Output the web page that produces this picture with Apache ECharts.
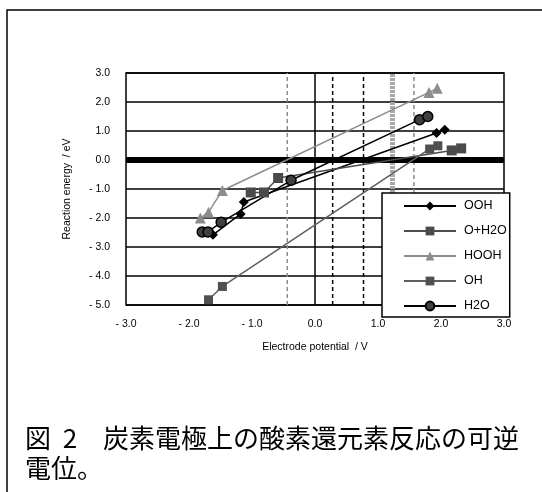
<!DOCTYPE html>
<html><head><meta charset="utf-8">
<script src="https://cdn.jsdelivr.net/npm/echarts@6/dist/echarts.min.js"></script>
<style>html,body{margin:0;padding:0;background:#fff}#c{width:542px;height:492px}</style>
</head><body><div id="c"></div>
<script>
// Data: [electrode potential (V), reaction energy (eV)]
var OOH   = [[-1.62,-2.58],[-1.18,-1.86],[-1.13,-1.45],[1.93,0.93],[2.06,1.04]];
var O_H2O = [[-1.02,-1.12],[-0.81,-1.12],[-0.585,-0.62],[2.17,0.33],[2.32,0.40]];
var HOOH  = [[-1.82,-2.0],[-1.69,-1.8],[-1.47,-1.05],[1.81,2.33],[1.94,2.47]];
var OH    = [[-1.69,-4.82],[-1.47,-4.36],[1.82,0.38],[1.95,0.49]];
var H2O   = [[-1.79,-2.48],[-1.70,-2.48],[-1.49,-2.15],[-0.38,-0.70],[1.66,1.39],[1.79,1.50]];
var seriesNames = ['OOH','O+H2O','HOOH','OH','H2O'];
// vertical reference potentials (V)
var refGrayDashed = [-0.44, 1.57];
var refBlackDashed = [0.28, 0.77];
var refBlackSolid = [0.0];
var refGrayThick = [1.23];
var zeroEnergy = 0.0;
var xMin=-3, xMax=3, yMin=-5, yMax=3;

function fmt(v){ return v<0 ? '- '+Math.abs(v).toFixed(1) : v.toFixed(1); }
function vline(x, color, width, type){
  return {type:'line', data:[[x,yMin],[x,yMax]], symbol:'none', silent:true, z:1,
    lineStyle:{color:color,width:width,type:type}, tooltip:{show:false}, legendHoverLink:false};
}
var font='Liberation Sans';
var chart = echarts.init(document.getElementById('c'));
var series = [];
refGrayDashed.forEach(function(x){ series.push(vline(x,'#8a8a8a',1.5,[4,3])); });
refBlackDashed.forEach(function(x){ series.push(vline(x,'#000',1.5,[4,3])); });
refBlackSolid.forEach(function(x){ series.push(vline(x,'#000',1.5,'solid')); });
refGrayThick.forEach(function(x){ series.push(vline(x,'#a8a8a8',5,[3,1])); });
series.push({type:'line', data:[[xMin,zeroEnergy],[xMax,zeroEnergy]], symbol:'none', silent:true, z:1,
  lineStyle:{color:'#000',width:6}});
series.push(
  {name:'OOH', type:'line', data:OOH, z:5, symbol:'diamond', symbolSize:10,
   lineStyle:{color:'#000',width:1.5}, itemStyle:{color:'#000'}},
  {name:'O+H2O', type:'line', data:O_H2O, z:5, symbol:'rect', symbolSize:10,
   lineStyle:{color:'#4d4d4d',width:1.5}, itemStyle:{color:'#4a4a4a'}},
  {name:'HOOH', type:'line', data:HOOH, z:5, symbol:'triangle', symbolSize:11,
   lineStyle:{color:'#8c8c8c',width:1.5}, itemStyle:{color:'#8c8c8c'}},
  {name:'OH', type:'line', data:OH, z:5, symbol:'rect', symbolSize:9,
   lineStyle:{color:'#5e5e5e',width:1.5}, itemStyle:{color:'#505050'}},
  {name:'H2O', type:'line', data:H2O, z:5, symbol:'circle', symbolSize:10,
   lineStyle:{color:'#000',width:1.5}, itemStyle:{color:'#3f3f3f',borderColor:'#000',borderWidth:1.5}}
);
chart.setOption({
  animation:false,
  backgroundColor:'#fff',
  textStyle:{fontFamily:font,color:'#000'},
  grid:{left:126, top:73, right:38, bottom:187, show:true, borderColor:'#000', borderWidth:1.5, backgroundColor:'transparent'},
  xAxis:{type:'value', min:xMin, max:xMax, interval:1,
    name:'Electrode potential  / V', nameLocation:'middle', nameGap:37,
    nameTextStyle:{fontSize:10.5,color:'#000',fontFamily:font},
    axisLine:{show:false}, axisTick:{show:false}, splitLine:{show:false},
    axisLabel:{formatter:fmt, fontSize:10.5, color:'#000', margin:14, fontFamily:font}},
  yAxis:{type:'value', min:yMin, max:yMax, interval:1,
    name:'Reaction energy  / eV', nameLocation:'middle', nameGap:53,
    nameTextStyle:{fontSize:10.5,color:'#000',fontFamily:font},
    axisLine:{show:false}, axisTick:{show:false},
    splitLine:{show:true, lineStyle:{color:'#000',width:1.5}},
    axisLabel:{formatter:fmt, fontSize:10.5, color:'#000', margin:16, fontFamily:font}},
  legend:{data:seriesNames, orient:'vertical', left:382, top:193,
    padding:[6,3,4,21], itemGap:11, itemWidth:52, itemHeight:11,
    backgroundColor:'#fff', borderColor:'#000', borderWidth:1.5, z:10,
    textStyle:{fontSize:12.5,color:'#000',fontFamily:font,padding:[0,0,0,3],lineHeight:14}},
  graphic:[
    {type:'rect', shape:{x:7,y:10,width:600,height:600}, z:-1, silent:true,
     style:{fill:'none',stroke:'#000',lineWidth:1.5}},
    {type:'text', left:25, top:423, silent:true,
     style:{text:'図  2　炭素電極上の酸素還元素反応の可逆\n電位。', font:'26px "Noto Sans CJK JP"', fill:'#000', lineHeight:30}}
  ],
  series:series
});
</script></body></html>
